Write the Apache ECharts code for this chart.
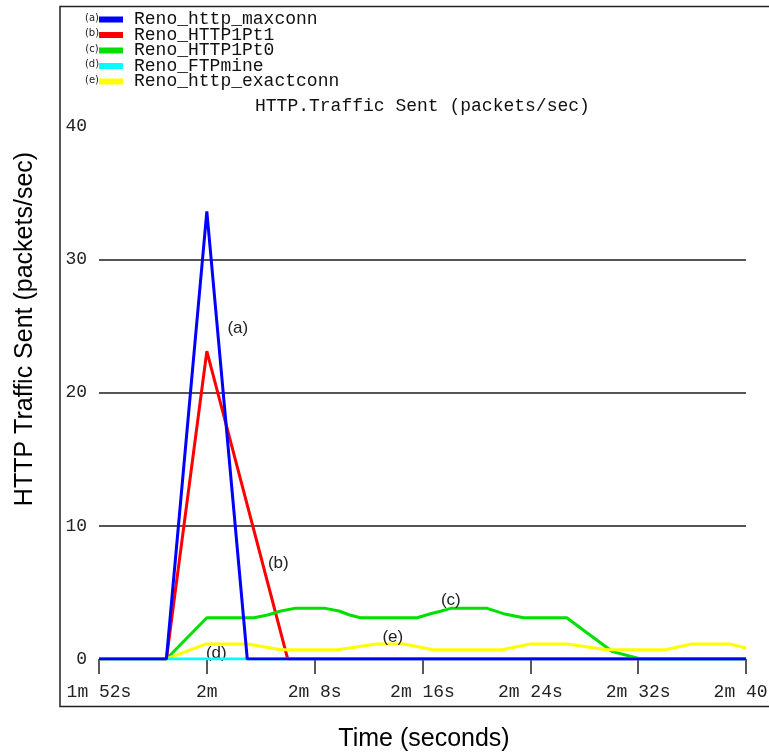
<!DOCTYPE html>
<html>
<head>
<meta charset="utf-8">
<script src="https://cdn.jsdelivr.net/npm/echarts@6/dist/echarts.min.js"></script>
<style>
    html, body { margin: 0; padding: 0; background: #fff; }
    #chart { width: 769px; height: 753px; }
</style>
</head>
<body>
<div id="chart"></div>
<script>
// series names in legend order (a)..(e)
const seriesNames = ['Reno_http_maxconn', 'Reno_HTTP1Pt1', 'Reno_HTTP1Pt0', 'Reno_FTPmine', 'Reno_http_exactconn']
const seriesTags = ['(a)', '(b)', '(c)', '(d)', '(e)']
const seriesColors = ['#0000ff', '#ff0000', '#00e000', '#00ffff', '#ffff00']

// time in seconds, values in packets/sec
const maxconnT = [112, 117, 120, 123, 160]
const maxconnV = [0, 0, 33.6, 0, 0]
const pt1T = [112, 117, 120, 126, 160]
const pt1V = [0, 0, 23.1, 0, 0]
const pt0T = [112, 117, 120, 123.5, 124.5, 125.5, 126.5, 128.8, 129.8, 130.6, 131.4, 135.6, 136.6, 137.4, 138.1, 140.8, 142, 143.5, 146.7, 150.1, 152.2, 160]
const pt0V = [0, 0, 3.1, 3.1, 3.3, 3.6, 3.8, 3.8, 3.6, 3.3, 3.1, 3.1, 3.4, 3.6, 3.8, 3.8, 3.4, 3.1, 3.1, 0.55, 0, 0]
const ftpT = [112, 117, 123, 160]
const ftpV = [0, 0, 0, 0]
const exactT = [112, 117, 119.9, 123, 125.5, 129.7, 132.6, 134.6, 136.8, 141.9, 144, 146.7, 149.7, 154, 156, 158.8, 160]
const exactV = [0, 0, 1.12, 1.12, 0.7, 0.7, 1.12, 1.12, 0.7, 0.7, 1.12, 1.12, 0.7, 0.7, 1.12, 1.12, 0.82]

// curve labels placed on the plot
const noteT = [122.3, 125.3, 138.1, 120.7, 133.8]
const noteV = [24.8, 7.15, 4.4, 0.45, 1.64]

// axes
const tMin = 112
const tMax = 160
const tStep = 8
const xTickLabels = ['1m 52s', '2m', '2m 8s', '2m 16s', '2m 24s', '2m 32s', '2m 40s']
const yMin = 0
const yMax = 40
const yStep = 10

const seriesT = [maxconnT, pt1T, pt0T, ftpT, exactT]
const seriesV = [maxconnV, pt1V, pt0V, ftpV, exactV]
const seriesZ = [6, 3, 3, 5, 3]

const mono = 'Liberation Mono'
const sans = 'Liberation Sans'

const series = seriesNames.map((name, i) => ({
    name: name,
    type: 'line',
    z: seriesZ[i],
    symbol: 'none',
    color: seriesColors[i],
    lineStyle: { width: 3, color: seriesColors[i] },
    data: seriesT[i].map((t, k) => [t, seriesV[i][k]]),
    markPoint: {
        symbol: 'circle',
        symbolSize: 0,
        silent: true,
        label: {
            show: true,
            position: 'inside',
            formatter: seriesTags[i],
            fontFamily: sans,
            fontSize: 17,
            color: '#222'
        },
        data: [{ coord: [noteT[i], noteV[i]] }]
    }
}))

const legendTop = 10.5
const legendRow = 15.5

const option = {
    backgroundColor: '#fff',
    animation: false,
    title: {
        text: 'HTTP.Traffic Sent (packets/sec)',
        left: 255,
        top: 97,
        padding: 0,
        textStyle: { fontFamily: mono, fontSize: 18, fontWeight: 'normal', color: '#111' }
    },
    legend: {
        orient: 'vertical',
        left: 99,
        top: legendTop,
        padding: 0,
        itemWidth: 24,
        itemHeight: 6,
        itemGap: -2.5,
        icon: 'rect',
        selectedMode: false,
        textStyle: { fontFamily: mono, fontSize: 18, lineHeight: legendRow, color: '#111', padding: [0, 0, 0, 6] },
        data: seriesNames
    },
    grid: {
        left: 99,
        right: 23,
        top: 126,
        bottom: 94,
        outerBoundsMode: 'none'
    },
    xAxis: {
        type: 'value',
        min: tMin,
        max: tMax,
        interval: tStep,
        offset: 7,
        axisLine: { show: false },
        axisTick: {
            show: true,
            length: 15,
            lineStyle: { color: '#222', width: 1.5 }
        },
        axisLabel: {
            margin: 17,
            fontFamily: mono,
            fontSize: 18,
            color: '#222',
            formatter: function (v) {
                return xTickLabels[Math.round((v - tMin) / tStep)]
            }
        },
        splitLine: { show: false }
    },
    yAxis: {
        type: 'value',
        min: yMin,
        max: yMax,
        interval: yStep,
        axisLine: { show: false },
        axisTick: { show: false },
        axisLabel: {
            margin: 12,
            fontFamily: mono,
            fontSize: 18,
            color: '#222',
            padding: [0, 0, 7, 0]
        },
        splitLine: {
            show: true,
            showMinLine: false,
            showMaxLine: false,
            lineStyle: { color: '#555', width: 2 }
        }
    },
    graphic: [
        {
            type: 'rect',
            silent: true,
            shape: { x: 60, y: 6.5, width: 760, height: 700 },
            style: { fill: 'none', stroke: '#222', lineWidth: 1.5 }
        },
        {
            type: 'text',
            x: 25,
            y: 329,
            rotation: Math.PI / 2,
            style: {
                text: 'HTTP Traffic Sent (packets/sec)',
                font: '25px "Liberation Sans"',
                fill: '#000',
                align: 'center',
                verticalAlign: 'middle'
            }
        },
        {
            type: 'text',
            x: 424,
            y: 739,
            style: {
                text: 'Time (seconds)',
                font: '25px "Liberation Sans"',
                fill: '#000',
                align: 'center',
                verticalAlign: 'middle'
            }
        }
    ].concat(seriesTags.map((tag, i) => ({
        type: 'text',
        x: 92,
        y: 18.3 + legendRow * i,
        style: {
            text: tag,
            font: '10px "DejaVu Sans"',
            fill: '#222',
            align: 'center',
            verticalAlign: 'middle'
        }
    }))),
    series: series
}

const myChart = echarts.init(document.getElementById('chart'))
myChart.setOption(option)
</script>
</body>
</html>
